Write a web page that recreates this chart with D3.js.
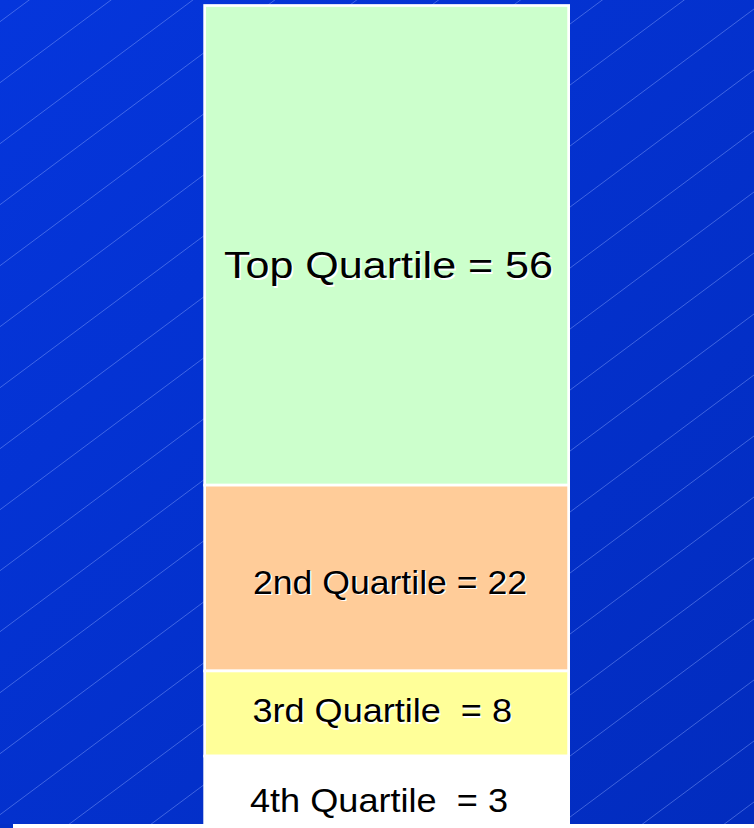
<!DOCTYPE html>
<html>
<head>
<meta charset="utf-8">
<script src="https://cdn.jsdelivr.net/npm/d3@7"></script>
<style>
  html, body { margin: 0; padding: 0; background: #ffffff; }
  svg { display: block; }
  text { font-family: "Liberation Sans", Arial, sans-serif; white-space: pre; }
</style>
</head>
<body>
<svg id="chart" width="754" height="828"></svg>
<script>
// ---- data ----
const quartiles = ["Top Quartile", "2nd Quartile", "3rd Quartile ", "4th Quartile "];
const counts = [56, 22, 8, 3];
// share of the column height that each quartile occupies in the original graphic (%)
const bandShare = [58.6, 22.7, 10.4, 8.3];

// ---- layout / style ----
const W = 754, H = 828;
const fills = ["#ccffcc", "#ffcc99", "#ffff99", "#ffffff"];
const labelStyle = [
  { x: 224, dy: 33, size: 36, len: 329 },
  { x: 253, dy: 15.5, size: 33, len: 274 },
  { x: 252.5, dy: 8.5, size: 34, len: 259.5 },
  { x: 250, dy: 21.5, size: 33, len: 258 }
];

const svg = d3.select("#chart");
const defs = svg.append("defs");
const grad = defs.append("linearGradient").attr("id", "bg")
  .attr("x1", "0").attr("y1", "0").attr("x2", "1").attr("y2", "1");
grad.append("stop").attr("offset", "0").attr("stop-color", "#0536dc");
grad.append("stop").attr("offset", "1").attr("stop-color", "#022cbe");

// background
svg.append("rect").attr("x", 0).attr("y", 0).attr("width", W).attr("height", 824).attr("fill", "url(#bg)");
svg.append("rect").attr("x", 0).attr("y", 824).attr("width", 13).attr("height", 4).attr("fill", "#0330c8");

// diagonal hairlines
const slope = 0.745, spacing = 61.0, offset0 = 21.7;
defs.append("clipPath").attr("id", "bgclip").append("rect")
  .attr("x", 0).attr("y", 0).attr("width", W).attr("height", 824);
const bgLines = svg.append("g").attr("clip-path", "url(#bgclip)");
bgLines.selectAll("line").data(d3.range(0, 24)).join("line")
  .attr("x1", 0).attr("y1", k => offset0 + k * spacing)
  .attr("x2", W).attr("y2", k => offset0 + k * spacing - slope * W)
  .attr("stroke", "#8fa9ff").attr("stroke-opacity", 0.55).attr("stroke-width", 0.8);

// scales
const x = d3.scaleBand().domain(["column"]).range([204.65, 568.65]).padding(0);
const y = d3.scaleLinear().domain([0, d3.sum(bandShare)]).range([5.5, 824]);

const rows = quartiles.map((q, i) => ({
  name: q, count: counts[i], share: bandShare[i],
  start: d3.sum(bandShare.slice(0, i)), fill: fills[i], style: labelStyle[i]
}));

const g = svg.append("g");
g.selectAll("rect.seg").data(rows).join("rect")
  .attr("class", "seg")
  .attr("x", x("column"))
  .attr("width", x.bandwidth())
  .attr("y", d => y(d.start))
  .attr("height", d => y(d.start + d.share) - y(d.start))
  .attr("fill", d => d.fill)
  .attr("stroke", "#ffffff")
  .attr("stroke-width", 2.7);

// labels with white drop shadow
const lab = g.selectAll("g.lab").data(rows).join("g").attr("class", "lab");
const labelText = d => `${d.name} = ${d.count}`;
const baseY = d => (y(d.start) + y(d.start + d.share)) / 2 + d.style.dy;
lab.append("text")
  .attr("x", d => d.style.x + 1.5).attr("y", d => baseY(d) + 1.5)
  .attr("font-size", d => d.style.size)
  .attr("textLength", d => d.style.len).attr("lengthAdjust", "spacingAndGlyphs")
  .attr("fill", "#ffffff")
  .text(labelText);
lab.append("text")
  .attr("x", d => d.style.x).attr("y", d => baseY(d))
  .attr("font-size", d => d.style.size)
  .attr("textLength", d => d.style.len).attr("lengthAdjust", "spacingAndGlyphs")
  .attr("fill", "#000000")
  .text(labelText);
</script>
</body>
</html>
